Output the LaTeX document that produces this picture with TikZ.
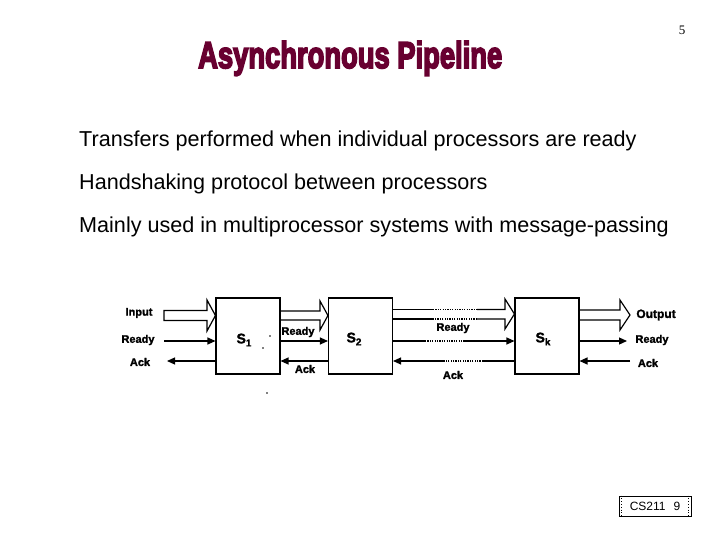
\documentclass[tikz,border=0pt]{standalone}
\usepackage{fontspec}
\setmainfont{Liberation Sans}
\newfontfamily\titlefont[FakeBold=5]{Liberation Sans}
\newfontfamily\lblfont[FakeBold=1.5]{Liberation Sans}
\newfontfamily\numfont{Liberation Serif}
\usetikzlibrary{arrows.meta}
\definecolor{maroon}{RGB}{104,0,48}
\begin{document}
\begin{tikzpicture}[x=1pt,y=-1pt,
  box/.style={draw,line width=1.1pt,minimum width=64pt,minimum height=76pt,inner sep=0pt},
  hollow/.style={draw,line width=1.2pt,line join=miter},
  sig/.style={draw,line width=1.2pt},
  tip/.style={-{Triangle[length=8pt,width=7pt]}},
  dots/.style={line width=1.2pt,dash pattern=on 1.2pt off 1.2pt},
  lbl/.style={font=\lblfont\bfseries\fontsize{11}{11}\selectfont,inner sep=0pt},
  slbl/.style={font=\lblfont\bfseries\fontsize{14}{14}\selectfont,inner sep=0pt},
  bullet/.style={anchor=west,font=\fontsize{21.6}{21.6}\selectfont,inner sep=0pt}]
\useasboundingbox (0,0) rectangle (720,540);
% header
\node[font=\numfont\fontsize{13}{13}\selectfont,inner sep=0pt] (pg) at (682,30) {5};
\node[anchor=base west,inner sep=0pt,text=maroon] (title) at (198,68)
  {\resizebox{304pt}{27pt}{\titlefont\bfseries Asynchronous Pipeline}};
% bullets
\node[bullet] (b1) at (79,141) {Transfers performed when individual processors are ready};
\node[bullet] (b2) at (79,184) {Handshaking protocol between processors};
\node[bullet] (b3) at (79,227) {Mainly used in multiprocessor systems with message-passing};
% boxes
\node[box] (s1) at (248,336) {};
\node[box] (s2) at (360.5,336) {};
\node[box] (sk) at (547,336) {};
\node[slbl] (t1) at (244,340) {S\raisebox{-3pt}{\fontsize{10}{10}\selectfont 1}};
\node[slbl] (t2) at (354,339) {S\raisebox{-3pt}{\fontsize{10}{10}\selectfont 2}};
\node[slbl] (tk) at (543,339) {S\raisebox{-3pt}{\fontsize{10}{10}\selectfont k}};
% hollow data arrows
\draw[hollow] (164,320.5) -- (164,310.5) -- (207,310.5) -- (207,300) -- (s1.west|-0,315.5)
  -- (207,331) -- (207,320.5) -- cycle;
\draw[hollow] (s1.east|-0,311) -- (320,311) -- (320,301) -- (s2.west|-0,315.5)
  -- (320,330) -- (320,320) -- (s1.east|-0,320);
\draw[hollow] (s2.east|-0,309.5) -- (433,309.5);
\draw[dots] (433,309.5) -- (477,309.5);
\draw[hollow] (477,309.5) -- (505,309.5) -- (505,299) -- (sk.west|-0,314)
  -- (505,329) -- (505,319) -- (477,319);
\draw[dots] (477,319) -- (433,319);
\draw[hollow] (433,319) -- (s2.east|-0,319);
\draw[hollow] (sk.east|-0,310) -- (620,310) -- (620,300) -- (630,315) -- (620,330)
  -- (620,320) -- (sk.east|-0,320);
% ready lines
\draw[sig,tip] (164,341) -- (s1.west|-0,341);
\draw[sig,tip] (s1.east|-0,341) -- (s2.west|-0,341);
\draw[sig] (s2.east|-0,341) -- (425,341);
\draw[dots] (425,341) -- (465,341);
\draw[sig,tip] (465,341) -- (sk.west|-0,341);
\draw[sig,tip] (sk.east|-0,341) -- (627,341);
% ack lines
\draw[sig,tip] (s1.west|-0,361) -- (167,361);
\draw[sig,tip] (s2.west|-0,361) -- (s1.east|-0,361);
\draw[sig] (sk.west|-0,361) -- (483,361);
\draw[dots] (483,361) -- (443,361);
\draw[sig,tip] (443,361) -- (s2.east|-0,361);
\draw[sig,tip] (630,361) -- (sk.east|-0,361);
% labels
\node[lbl] (lin) at (139,313) {Input};
\node[lbl] (lr0) at (138,340) {Ready};
\node[lbl] (la0) at (140,362) {Ack};
\node[lbl] (lr1) at (298,332) {Ready};
\node[lbl] (la1) at (305,369) {Ack};
\node[lbl] (lr2) at (453,328) {Ready};
\node[lbl] (la2) at (453,375) {Ack};
\node[lbl,font=\lblfont\bfseries\fontsize{12}{12}\selectfont] (lout) at (656,315) {Output};
\node[lbl] (lr3) at (652,340) {Ready};
\node[lbl] (la3) at (648,363) {Ack};
% stray dots
\fill (270,336) circle (0.9pt);
\fill (263,348) circle (0.9pt);
\fill (267,393) circle (0.9pt);
% footer
\node[draw,line width=0.8pt,minimum width=72pt,minimum height=20pt,inner sep=0pt,
  font=\fontsize{12}{12}\selectfont] (ft) at (655,506) {CS211\hspace{8pt}9};
\draw[dotted,line width=0.8pt] ([xshift=3pt]ft.north west) -- ([xshift=3pt]ft.south west);
\draw[dotted,line width=0.8pt] ([xshift=-3pt]ft.north east) -- ([xshift=-3pt]ft.south east);
\end{tikzpicture}
\end{document}
